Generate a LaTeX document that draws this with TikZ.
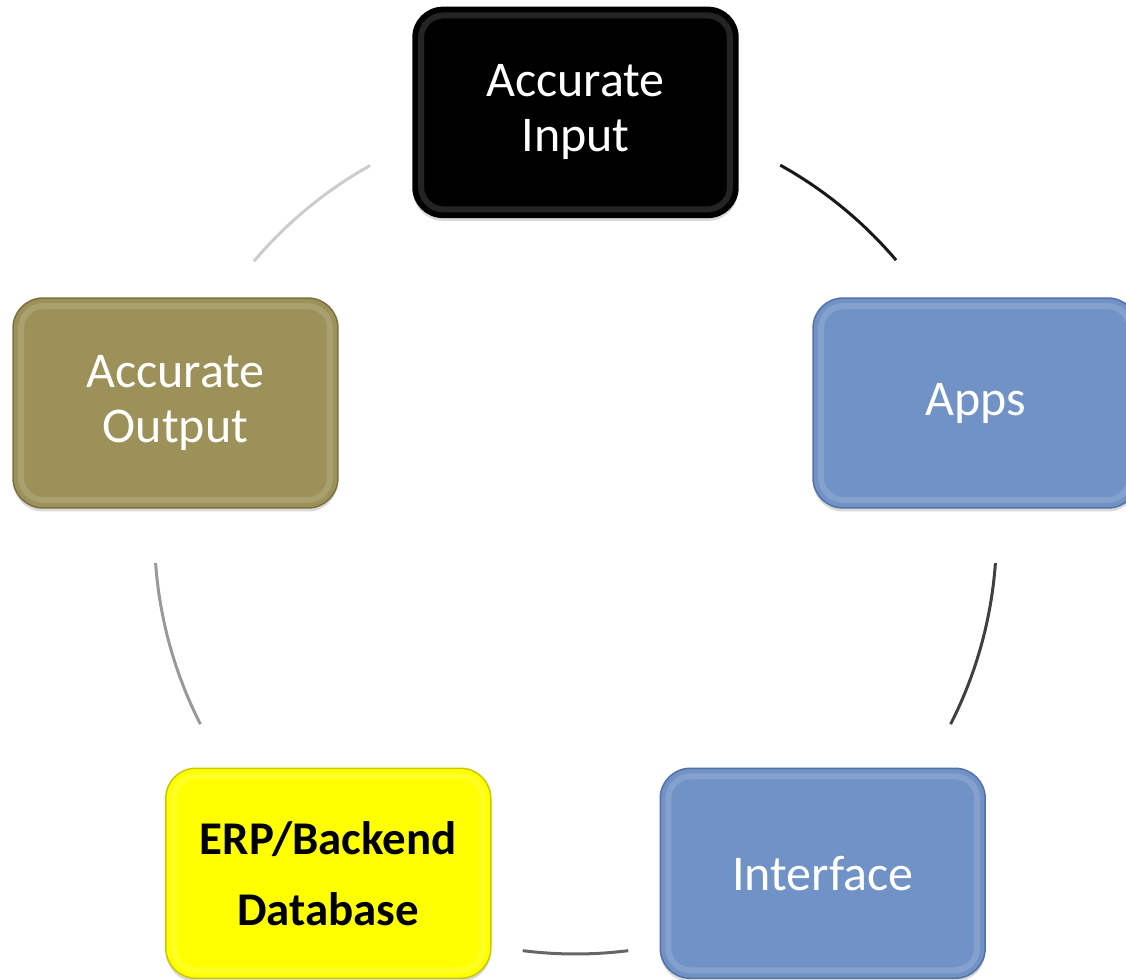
\documentclass[tikz,border=0pt]{standalone}
\usepackage{fontspec}
\setmainfont{Carlito}
\usetikzlibrary{shadows}
\definecolor{appblue}{RGB}{112,146,198}
\definecolor{appblueD}{RGB}{84,114,166}
\definecolor{outolive}{RGB}{156,145,88}
\definecolor{outoliveD}{RGB}{122,113,64}
\definecolor{erpyellow}{RGB}{255,255,0}
\definecolor{erpyellowD}{RGB}{200,200,0}

\begin{document}
\begin{tikzpicture}
  [x=0.02cm,y=0.02cm,
   cycleN/.style={rectangle,rounded corners=0.6cm,minimum width=6.5cm,
     minimum height=4.2cm,inner sep=0pt,align=center,line width=0.03cm,
     font=\fontsize{28.45}{31.3}\selectfont,text=white,
     drop shadow={shadow xshift=0cm,shadow yshift=-0.07cm,opacity=0.3},
     path picture={\draw[white,opacity=0.14,line width=0.12cm,rounded corners=0.45cm]
       ([shift={(0.16cm,-0.16cm)}]path picture bounding box.north west) rectangle
       ([shift={(-0.16cm,0.16cm)}]path picture bounding box.south east);}},
   arcL/.style={line width=0.06cm}]

  \useasboundingbox (0,0) rectangle (1126,980);
  \coordinate (c) at (575.5,447);

  \path (c) +(90:420.6)  node[cycleN,fill=black,draw=black] (inp) {Accurate\\Input}
            +(18:420.6)  node[cycleN,fill=appblue,draw=appblueD] (apps) {Apps}
            +(-54:420.6) node[cycleN,fill=appblue,draw=appblueD] (intf) {Interface}
            +(-126:420.6) node[cycleN,fill=erpyellow,draw=erpyellowD,text=black,
                font=\fontsize{26.7}{40.4}\selectfont\bfseries] (erp) {ERP/Backend\\Database}
            +(162:420.6) node[cycleN,fill=outolive,draw=outoliveD] (outp) {Accurate\\Output};

  % arcs of the cycle, dark to light
  \draw[arcL,black!90] (c) ++(60.9:421) arc[start angle=60.9,end angle=40.4,radius=421];
  \draw[arcL,black!75] (c) ++(-4.1:421) arc[start angle=-4.1,end angle=-27,radius=421];
  \draw[arcL,black!60] (c) ++(-82.8:421) arc[start angle=-82.8,end angle=-97.2,radius=421];
  \draw[arcL,black!40] (c) ++(-153:421) arc[start angle=-153,end angle=-175.9,radius=421];
  \draw[arcL,black!20] (c) ++(139.8:421) arc[start angle=139.8,end angle=119.2,radius=421];

\end{tikzpicture}
\end{document}
